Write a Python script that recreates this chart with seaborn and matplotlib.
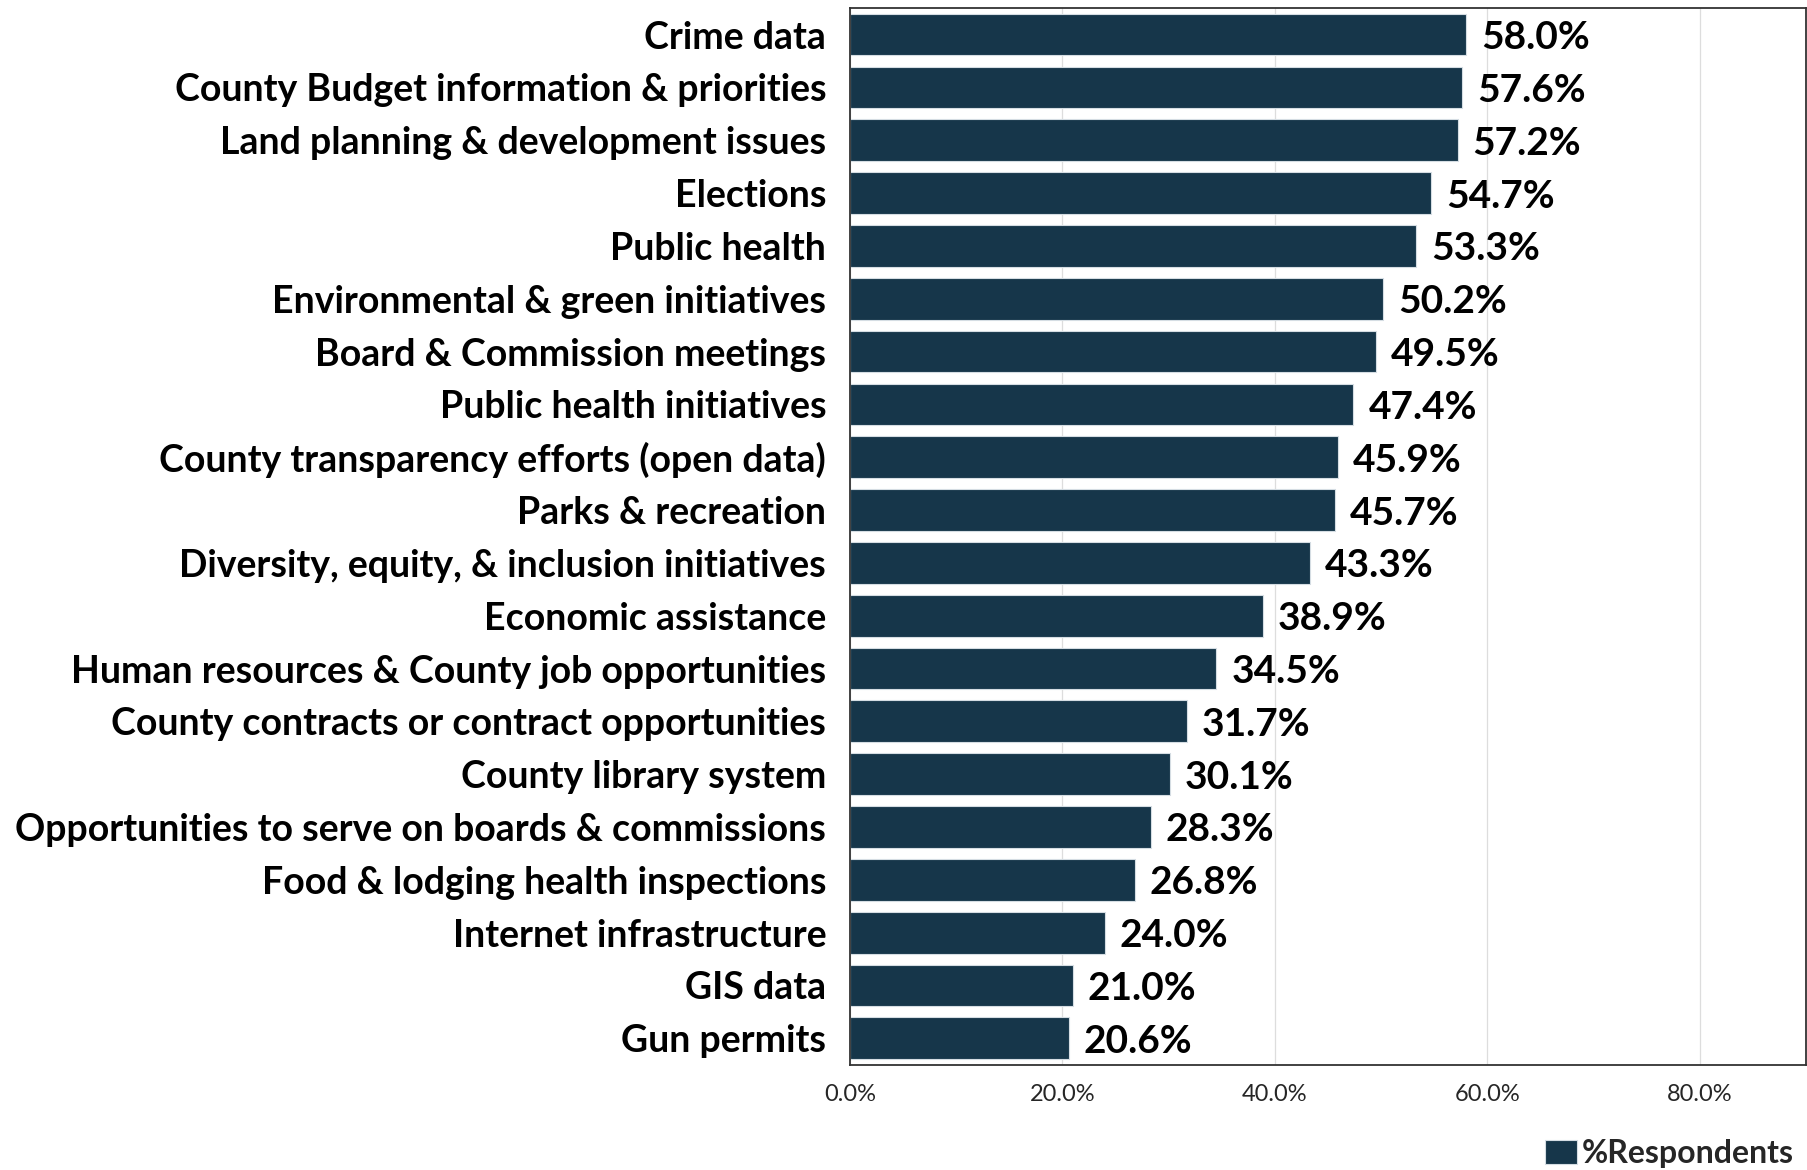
import numpy as np
import pandas as pd
import matplotlib.pyplot as plt
import seaborn as sns

# survey topics, top to bottom
topics = [
    'Crime data',
    'County Budget information & priorities',
    'Land planning & development issues',
    'Elections',
    'Public health',
    'Environmental & green initiatives',
    'Board & Commission meetings',
    'Public health initiatives',
    'County transparency efforts (open data)',
    'Parks & recreation',
    'Diversity, equity, & inclusion initiatives',
    'Economic assistance',
    'Human resources & County job opportunities',
    'County contracts or contract opportunities',
    'County library system',
    'Opportunities to serve on boards & commissions',
    'Food & lodging health inspections',
    'Internet infrastructure',
    'GIS data',
    'Gun permits',
]
pct_respondents = [58.0, 57.6, 57.2, 54.7, 53.3, 50.2, 49.5, 47.4, 45.9, 45.7,
                   43.3, 38.9, 34.5, 31.7, 30.1, 28.3, 26.8, 24.0, 21.0, 20.6]
x_ticks = [0, 20, 40, 60, 80]
x_tick_labels = ['0.0%', '20.0%', '40.0%', '60.0%', '80.0%']

df = pd.DataFrame({'Topic': topics, '%Respondents': pct_respondents})

sns.set_style('white')
plt.rcParams['font.family'] = ['Lato', 'DejaVu Sans']

bar_color = '#16364a'

fig = plt.figure(figsize=(18.08, 11.7), dpi=100)
ax = fig.add_axes([0.470, 0.090, 0.529, 0.903])

sns.barplot(data=df, y='Topic', x='%Respondents', color=bar_color,
            width=0.79, edgecolor='#d5dde3', linewidth=0.8, ax=ax,
            label='%Respondents', saturation=1)

ax.set_xlim(0, 90)
ax.set_ylim(len(topics) - 0.5, -0.5)
ax.set_xticks(x_ticks)
ax.set_xticklabels(x_tick_labels, fontsize=17)
ax.tick_params(axis='x', length=0, pad=14)
ax.tick_params(axis='y', length=0, pad=17)
for lbl in ax.get_yticklabels():
    lbl.set_fontsize(27)
    lbl.set_fontweight('bold')
    lbl.set_color('black')
ax.set_xlabel('')
ax.set_ylabel('')
ax.grid(axis='x', color='#dddddd', linewidth=0.9)
ax.set_axisbelow(True)
for side in ['top', 'right', 'bottom', 'left']:
    ax.spines[side].set_visible(True)
    ax.spines[side].set_color('#333333')
    ax.spines[side].set_linewidth(1.3)

# value labels at the bar ends
for i, v in enumerate(pct_respondents):
    ax.text(v + 1.4, i, f'{v:.1f}%', va='center_baseline', ha='left',
            fontsize=28, fontweight='bold', color='black')

leg = ax.legend(loc='lower right', bbox_to_anchor=(1.0, -0.11), frameon=False,
                prop={'size': 23, 'weight': 'bold'}, handlelength=1.0,
                handleheight=0.8, handletextpad=0.15, borderaxespad=0)

fig.savefig('out.png', dpi=100)
